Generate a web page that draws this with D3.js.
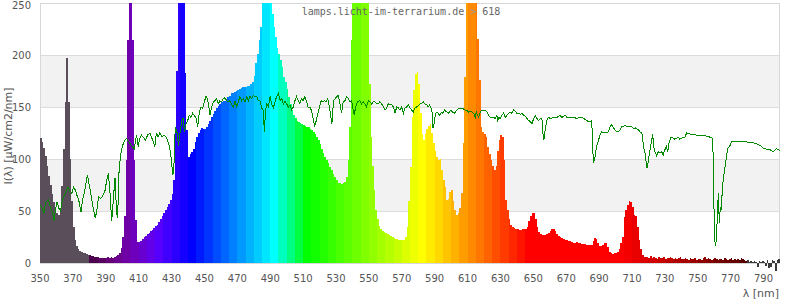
<!DOCTYPE html>
<html><head><meta charset="utf-8">
<script src="https://cdn.jsdelivr.net/npm/d3@7"></script>
<style>body{margin:0;background:#fff}svg{display:block}</style>
</head><body><svg id="c" width="800" height="300"></svg>
<script>
// lamp spectrum, 1 nm steps starting at 350 nm
const startNm = 350;
const spectrum = [
120,116,111,103,93,84,75,66,59,53,
48,46,52,74,110,155,197,155,100,60,
35,22,16,13,12,11,10,10,9,8,
8,7,7,6,6,6,5,5,5,5,
5,6,5,6,5,6,7,8,10,14,
25,45,99,214,300,300,214,99,41,20,
20,21,23,25,26,28,29,31,32,34,
36,37,39,42,45,48,51,54,57,61,
66,80,131,185,300,300,300,300,183,128,
102,105,107,110,116,121,125,128,130,129,
129,131,134,137,140,143,146,149,151,153,
155,156,156,158,160,161,163,163,164,165,
166,167,168,169,169,169,170,170,172,174,
180,192,201,214,227,300,300,300,300,300,
300,239,227,217,207,201,195,188,179,174,
167,160,153,147,142,139,137,136,135,134,
133,132,131,131,129,128,126,124,121,118,
114,110,106,102,99,96,92,89,86,83,
80,77,77,76,77,78,83,99,131,214,
300,300,300,300,300,300,300,300,300,300,
172,121,93,70,51,42,36,33,31,30,
29,28,27,26,25,24,23,23,22,22,
22,22,25,35,60,92,140,166,182,184,
172,144,124,118,124,129,132,134,125,115,
108,102,99,100,89,80,73,61,62,68,
70,60,51,46,48,53,67,115,179,300,
300,300,300,300,300,300,215,176,131,126,
124,121,112,105,99,93,89,93,108,118,
123,121,99,61,51,42,37,35,34,33,
33,32,32,33,33,33,35,40,45,48,
48,42,35,30,28,27,27,27,28,29,
31,33,33,31,28,26,25,24,23,22,
22,21,21,20,19,19,20,19,19,18,
18,18,17,17,17,17,21,24,23,19,
16,16,17,19,19,15,11,10,9,10,
10,11,13,19,25,44,51,56,60,59,
54,46,45,35,22,13,8,6,6,6,
5,7,5,6,5,4,6,5,5,6,
4,5,5,6,5,4,5,4,5,6,
4,4,5,4,3,5,4,4,5,3,
4,4,3,5,6,4,5,4,3,4,
5,4,3,4,4,3,5,4,3,4,
5,3,4,3,4,3,5,4,3,2,
3,1,2,1,2,1,-4,2,1,2,
1,-3,3,-5,-4,3,2,-8,3,4,
2
];
// reference spectrum (green line): [nm, value]
const reference = [
[350.4,56],[352.4,48],[353.4,58],[355,61],[356.4,53],[357.8,48],[358.4,40],[359.4,51],[360.4,59],[361.4,53],[362.4,50],[363.8,62],[365.4,67],[367,73],[368.4,69],[369.4,67],[370.4,73],[371.5,70],[372.5,65],[373.5,61],[374.9,49],[375.9,61],[376.9,67],[378.1,78],[378.9,85],[379.9,75],[380.9,67],[382.2,54],[383.6,43],[384.6,51],[385.6,64],[386.6,62],[388,64],[389.6,70],[390.6,80],[391.6,86],[392.6,67],[393.6,40],[394.6,61],[395.6,82],[396.6,48],[397.2,43],[398,86],[399,104],[400,112],[401.2,117],[402.7,120],[403.7,117],[404.7,115],[406.1,112],[407.3,110],[408.7,123],[409.7,112],[410.7,120],[411.7,123],[412.8,121],[414.2,118],[415.4,123],[416.8,125],[417.8,121],[418.8,117],[419.8,112],[420.8,125],[421.8,121],[422.8,125],[424.2,121],[425.4,123],[426.8,121],[428.2,115],[429.4,106],[430.2,93],[430.8,85],[431.4,89],[431.8,118],[432.4,131],[433.4,125],[434.2,113],[435.4,128],[436.2,137],[437,139],[437.8,126],[438.8,134],[439.8,137],[440.8,142],[441.8,140],[442.8,144],[443.9,142],[444.9,139],[445.9,131],[446.9,145],[447.9,150],[448.9,149],[449.9,155],[450.9,160],
[451.4,160],[452.4,153],[453.4,142],[454.4,150],[455.4,155],[456.4,156],[457.4,158],[458.4,153],[459.4,156],[460.5,155],[461.5,158],[462.5,159],[463.5,156],[464.5,155],[465.5,156],[466.6,152],[467.6,150],[468.6,156],[469.6,150],[470.6,155],[471.6,160],[472.6,156],[473.6,158],[474.7,155],[475.7,160],[476.7,156],[477.7,160],[478.7,158],[479.7,161],[480.7,160],[481.8,160],[482.8,156],[483.8,156],[484.8,149],[485.8,147],[486.4,126],[487.2,147],[487.8,153],[488.9,150],[489.9,160],[490.9,153],[491.9,149],[492.9,155],[493.9,160],[495,163],[496,156],[497,158],[498,153],[499,156],[500,153],[501,150],[502,152],[503,147],[504,150],[505,156],[506,160],[507,156],[508,153],[509,158],[510,156],[511,160],[512,156],[513,150],[514,150],[515,147],[516,140],[517,131],[518,137],[519,144],[520,150],[521,156],[522,155],[523,156],[524,155],[525,158],[526,150],[527.5,134],[528.5,156],[529.5,158],[530.5,160],[531.4,161],[532.4,153],[533.4,144],[534.4,155],[535.4,156],[536.4,160],[537.5,158],[538.5,155],[539.5,156],[540.5,147],[541.1,142],[541.9,150],[543.1,155],[544.5,156],[545.5,153],[546.5,155],[547.6,153],[548.6,150],[549.6,156],[550.6,155],[551.6,153],[552.7,155],[553.7,155],[554.7,153],[555.7,153],[556.7,155],[557.8,153],[558.8,150],[559.8,147],[560.8,149],[561.8,153],[562.8,152],
[563.9,152],[564.9,150],[565.9,144],[566.9,150],[568,149],[569,147],[570,150],[571,144],[572,149],[573,150],[574,152],[575,149],[576,147],[577,145],[578,149],[579,150],[580,151],[581,153],[582,153],[583,155],[584,153],[585.3,152],[586,150],[587,152],[588.3,147],[589,130],[589.6,134],[590.6,144],[591.7,145],[593,142],[594,145],[595,144],[596,147],[597.5,145],[598.5,144],[599.5,147],[601,145],[602,144],[603.6,147],[604.6,149],[605.6,149],[606.6,149],[607.6,148],[608.6,147],[609.7,147],[610.7,145],[611.7,146],[612.7,145],[613.7,144],[614.7,140],[615.3,145],[616.1,142],[616.7,140],[617.7,145],[618.7,147],[619.7,147],[620.8,147],[621.8,145],[622.8,142],[623.8,140],[624.8,140],[625.8,140],[626.8,139],[627.9,142],[628.3,136],[628.9,140],[629.9,139],[630.9,142],[631.9,144],[632.9,140],[633.9,142],[634.9,144],[636,145],[637,144],[638,147],[639,146],[640,144],[641,144],[642.1,143],[643,144],[644.1,142],[645.1,141],[646.1,139],[647.1,137],[648.2,136],[649.2,134],[649.8,137],[650.6,140],[651.2,142],[652.2,139],[653.2,137],[654.2,139],[655.2,139],[655.8,125],[656.4,118],[657.2,128],[658.2,137],[659.2,140],[660.3,139],[662.3,140],[664.3,140],[665.3,141],[666.3,142],[667.3,140],[668.3,141],[669.4,142],[670.4,140],[671.4,140],[672.4,140],[673.4,140],[674.4,140],[676.5,139],[678.5,140],[679.5,140],[680.5,139],[681.5,138],[682.5,137],[683.5,136],[684.6,136],
[685.5,137],[686.5,96],[687.5,102],[688.5,112],[689.5,117],[690.5,123],[691.6,126],[692.6,125],[693.6,126],[694.6,125],[695.6,126],[696.7,131],[697.7,133],[698.7,130],[699.7,128],[700.7,126],[701.7,126],[702.7,128],[703.8,131],[705.8,132],[707.8,131],[709.9,131],[710.9,129],[711.9,130],[712.9,129],[713.9,128],[715,126],[716,125],[717,112],[718,105],[718.6,97],[719.2,91],[720,99],[721,109],[722,118],[722.6,124],[723.2,112],[724,107],[725,103],[726,107],[727,106],[728,107],[729,104],[730,109],[731,112],[731.7,107],[732.5,115],[733.7,121],[735,120],[736.1,119],[737.1,120],[738.1,121],[739.1,119],[740.2,120],[742.2,121],[743.2,125],[745.3,124],[747.3,124],[749.3,123],[751.3,123],[753.4,123],[755.4,122],[757.4,121],[759.1,120],[759.7,73],[760.1,24],[760.9,16],[761.5,29],[762.1,54],[762.5,67],[763.1,38],[763.7,54],[764.3,51],[764.9,70],[765.5,80],[766.6,93],[767.6,104],[768.2,110],[769.6,113],[770.6,117],[772.6,117],[774.7,117],[776.7,117],[778.7,117],[780.7,116],[782.8,116],[784.8,115],[786.8,114],[788.8,112],[789.9,110],[790.9,110],[791.9,109],[793.9,109],[794.9,108],[795.9,107],[797,109],[798,110],[799,109],[800,108]
];
const xTicks = [350,370,390,410,430,450,470,490,510,530,550,570,590,610,630,650,670,690,710,730,750,770,790];
const yTicks = [0,50,100,150,200,250];
const bands = [[50,100],[150,200]];
const titleA = "lamps.licht-im-terrarium.de ";
const titleB = ">";
const titleC = " 618";
const yLabel = "I(λ) [µW/cm2/nm]";
const xLabel = "λ [nm]";

const svg = d3.select("#c");
const L = 40, R = 780, T = 3, B = 263;
const x = d3.scaleLinear().domain([350, 800]).range([L, R]);
const y = d3.scaleLinear().domain([0, 250]).range([B, T]);

svg.append("defs").append("clipPath").attr("id","clip")
  .append("rect").attr("x",L).attr("y",T).attr("width",R-L).attr("height",300-T);

// bands
svg.append("g").selectAll("rect").data(bands).join("rect")
  .attr("x",L).attr("width",R-L)
  .attr("y",d=>y(d[1])).attr("height",d=>y(d[0])-y(d[1]))
  .attr("fill","#f2f2f2");
// grid
svg.append("g").selectAll("line").data(yTicks.filter(v=>v>0 && v<250)).join("line")
  .attr("x1",L).attr("x2",R)
  .attr("y1",d=>Math.round(y(d))+0.5).attr("y2",d=>Math.round(y(d))+0.5)
  .attr("stroke","#dcdcdc");
// frame
svg.append("rect").attr("x",L+0.5).attr("y",T+0.5).attr("width",R-L-1).attr("height",B-T)
  .attr("fill","none").attr("stroke","#d8d8d8");

function specColor(nm){
  if (nm < 380) return "#5b4e5b";
  if (nm >= 780) return "#3a3a3a";
  const w = Math.floor(nm/5)*5;
  let r,g,b;
  if (w < 440){ r = -(w-440)/60; g = 0; b = 1; }
  else if (w < 490){ r = 0; g = (w-440)/50; b = 1; }
  else if (w < 510){ r = 0; g = 1; b = -(w-510)/20; }
  else if (w < 580){ r = (w-510)/70; g = 1; b = 0; }
  else if (w < 645){ r = 1; g = -(w-645)/65; b = 0; }
  else { r = 1; g = 0; b = 0; }
  const f = w < 420 ? 0.3 + 0.7*(w-380)/40 : (w > 700 ? 0.3 + 0.7*(780-w)/80 : 1);
  return d3.rgb(r*f*255, g*f*255, b*f*255).formatHex();
}

const bars = spectrum.map((v,i)=>({nm:startNm+i, v}));
svg.append("g").attr("clip-path","url(#clip)").attr("shape-rendering","crispEdges")
  .selectAll("rect").data(bars).join("rect")
  .attr("x",d=>Math.round(x(d.nm)))
  .attr("width",d=>Math.max(1, Math.round(x(d.nm+1))-Math.round(x(d.nm))))
  .attr("y",d=>Math.round(Math.min(y(d.v), y(0))))
  .attr("height",d=>Math.round(Math.abs(y(d.v)-y(0))))
  .attr("fill",d=>specColor(d.nm));

// reference line
svg.append("path").datum(reference).attr("clip-path","url(#clip)")
  .attr("d", d3.line().x(d=>x(d[0])).y(d=>y(d[1])))
  .attr("fill","none").attr("stroke","#008a00").attr("stroke-width",1)
  .attr("shape-rendering","crispEdges");

// axes labels
const font = "'DejaVu Sans', sans-serif";
svg.append("g").selectAll("text").data(xTicks).join("text")
  .attr("x",d=>x(d)).attr("y",282).attr("text-anchor","middle")
  .attr("font-family",font).attr("font-size",10).attr("fill","#555").text(d=>d);
svg.append("g").selectAll("text").data(yTicks).join("text")
  .attr("x",31).attr("y",d=>Math.max(y(d)+4.2, 8.5)).attr("text-anchor","end")
  .attr("font-family",font).attr("font-size",10).attr("fill","#555").text(d=>d);

svg.append("text").attr("transform","translate(12,136) rotate(-90)")
  .attr("text-anchor","middle").attr("font-family",font).attr("font-size",11)
  .attr("fill","#555").text(yLabel);
svg.append("text").attr("x",779).attr("y",297).attr("text-anchor","end")
  .attr("font-family",font).attr("font-size",11).attr("fill","#555").text(xLabel);

const t = svg.append("text").attr("x",401).attr("y",15).attr("text-anchor","middle")
  .attr("font-family","'DejaVu Sans Mono', monospace").attr("font-size",10).attr("fill","#666")
  .attr("xml:space","preserve");
t.append("tspan").text(titleA);
t.append("tspan").attr("fill","#999").text(titleB);
t.append("tspan").text(titleC);
</script></body></html>
